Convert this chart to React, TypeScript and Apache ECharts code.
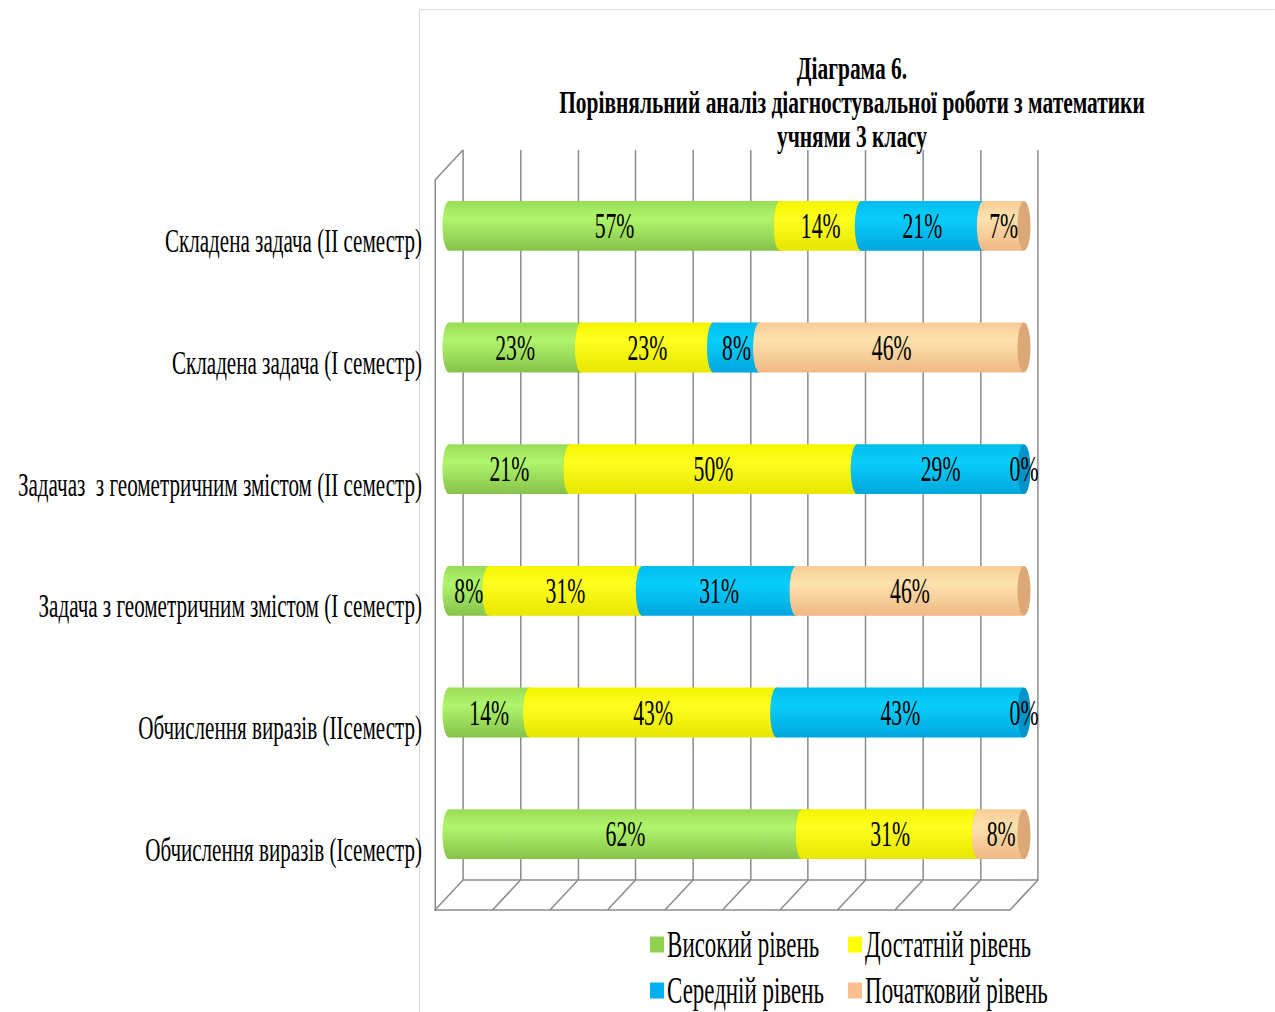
import React, { useEffect, useRef } from "react";
import * as echarts from "echarts";

// ---- data (top to bottom) ----
const categories = [
  "Складена задача (II семестр)",
  "Складена задача (I семестр)",
  "Задачаз  з геометричним змістом (II семестр)",
  "Задача з геометричним змістом (I семестр)",
  "Обчислення виразів (IIсеместр)",
  "Обчислення виразів (Iсеместр)",
];
const seriesNames = ["Високий рівень", "Достатній рівень", "Середній рівень", "Початковий рівень"];
const high: (number | null)[] = [57, 23, 21, 8, 14, 62];
const sufficient: (number | null)[] = [14, 23, 50, 31, 43, 31];
const medium: (number | null)[] = [21, 8, 29, 31, 43, null];
const initial: (number | null)[] = [7, 46, 0, 46, 0, 8];
const axisTicks = [0, 10, 20, 30, 40, 50, 60, 70, 80, 90, 100];

const titleText = "Діаграма 6.\nПорівняльний аналіз діагностувальної роботи з математики\nучнями 3 класу";

// ---- styles / layout ----
// The reference uses a horizontally condensed serif face; the whole chart is
// drawn wider and squeezed horizontally by S to reproduce that look.
const S = 0.62;
const sx = (v: number) => v / S;
const W = 1275;
const H = 1012;

const FONT = "'Liberation Serif', 'Times New Roman', serif";
const GRID_LINE = "#8c8c8c";
const LW_H = 1.5; // horizontal line width (screen px)
const LW_V = sx(1.5); // vertical line width in chart space
const baseColors = ["#92d050", "#ffff00", "#00b0f0", "#fac090"];
const gradStops = [
  ["#98dc56", "#b0f66c", "#86c24a"],
  ["#f4f400", "#ffff20", "#e6e600"],
  ["#00bcec", "#08cefc", "#00a6de"],
  ["#f8cc96", "#fde2ae", "#f0b884"],
];
const capColors = ["#7db044", "#d4d400", "#0094c8", "#dca877"];

const FRONT = { left: sx(435), top: 180, width: sx(575), height: 730 };
const DX = sx(28);
const DY = 30;

const rawSeries = [high, sufficient, medium, initial];

function buildSegments() {
  const segs: number[][][] = rawSeries.map(() => []);
  categories.forEach((_, i) => {
    const total = rawSeries.reduce((a, s) => a + (s[i] ?? 0), 0);
    let cum = 0;
    rawSeries.forEach((s, k) => {
      const v = s[i];
      const share = v == null ? 0 : (v / total) * 100;
      segs[k].push([i, cum, cum + share]);
      cum += share;
    });
  });
  return segs;
}

export default function App() {
  const ref = useRef<HTMLDivElement>(null);

  useEffect(() => {
    if (!ref.current) return;
    const chart = echarts.init(ref.current, null, { renderer: "svg" });
    const segs = buildSegments();

    const barSeries = seriesNames.map((name, k) => ({
      name,
      type: "custom",
      xAxisIndex: 2,
      yAxisIndex: 2,
      clip: false,
      itemStyle: { color: baseColors[k] },
      data: segs[k],
      renderItem: (params: any, api: any) => {
        const cat = api.value(0);
        const s = api.value(1);
        const e = api.value(2);
        const raw = rawSeries[k][cat];
        if (raw == null) return { type: "group", children: [] };
        const p0 = api.coord([s, cat]);
        const p1 = api.coord([e, cat]);
        const h = api.size([0, 1])[1] * 0.41;
        const cy = p0[1];
        const rx = sx(6.5);
        const fill = new echarts.graphic.LinearGradient(0, 0, 0, 1, [
          { offset: 0, color: gradStops[k][0] },
          { offset: 0.35, color: gradStops[k][1] },
          { offset: 1, color: gradStops[k][2] },
        ]);
        const children: any[] = [];
        if (p1[0] - p0[0] > 0.5) {
          children.push({
            type: "rect",
            shape: { x: p0[0], y: cy - h / 2, width: p1[0] - p0[0], height: h },
            style: { fill },
          });
          children.push({
            type: "ellipse",
            shape: { cx: p0[0], cy, rx, ry: h / 2 },
            style: { fill },
          });
          children.push({
            type: "ellipse",
            shape: { cx: p1[0], cy, rx, ry: h / 2 },
            style: { fill: capColors[k] },
          });
        }
        children.push({
          type: "text",
          z2: 20,
          x: (p0[0] + p1[0]) / 2,
          y: cy,
          style: {
            text: raw + "%",
            fontSize: 35,
            fontFamily: FONT,
            fill: "#000",
            align: "center",
            verticalAlign: "middle",
          },
        });
        return { type: "group", children };
      },
    }));

    const floorSeries = {
      type: "custom",
      xAxisIndex: 1,
      yAxisIndex: 1,
      clip: false,
      silent: true,
      z: 1,
      data: axisTicks.map((v) => [v, 0]),
      renderItem: (params: any, api: any) => {
        const v = api.value(0);
        const p = api.coord([v, 0]);
        const cs = params.coordSys;
        const yb = cs.y + cs.height;
        const style = { stroke: GRID_LINE, lineWidth: 2 };
        const children: any[] = [
          { type: "line", shape: { x1: p[0], y1: yb, x2: p[0] + DX, y2: yb - DY }, style },
        ];
        if (v === axisTicks[0]) {
          children.push({
            type: "line",
            shape: { x1: cs.x, y1: cs.y, x2: cs.x + DX, y2: cs.y - DY },
            style,
          });
        }
        return { type: "group", children };
      },
    };

    const hiddenAxis = { show: false };
    const legendCommon = {
      icon: "rect",
      itemWidth: sx(14),
      itemHeight: 16,
      padding: 0,
      selectedMode: false,
      textStyle: { fontSize: 37, fontFamily: FONT, color: "#000" },
    };

    chart.setOption({
      animation: false,
      backgroundColor: "#ffffff",
      textStyle: { fontFamily: FONT },
      grid: [
        { left: FRONT.left + DX, top: FRONT.top - DY, width: FRONT.width, height: FRONT.height, outerBoundsMode: "none" },
        { left: FRONT.left, top: FRONT.top, width: FRONT.width, height: FRONT.height, outerBoundsMode: "none" },
        { left: FRONT.left + DX / 2, top: FRONT.top - DY / 2, width: FRONT.width, height: FRONT.height, outerBoundsMode: "none" },
      ],
      xAxis: [
        {
          gridIndex: 0,
          type: "value",
          min: 0,
          max: 100,
          interval: 10,
          axisLine: { show: true, lineStyle: { color: GRID_LINE, width: LW_H } },
          axisTick: { show: false },
          axisLabel: { show: false },
          splitLine: { show: true, lineStyle: { color: GRID_LINE, width: LW_V } },
        },
        {
          gridIndex: 1,
          type: "value",
          min: 0,
          max: 100,
          interval: 10,
          axisLine: { show: true, lineStyle: { color: GRID_LINE, width: LW_H } },
          axisTick: { show: false },
          axisLabel: { show: false },
          splitLine: { show: false },
        },
        { gridIndex: 2, type: "value", min: 0, max: 100, interval: 10, ...hiddenAxis },
      ],
      yAxis: [
        { gridIndex: 0, type: "category", inverse: true, data: categories, ...hiddenAxis },
        {
          gridIndex: 1,
          type: "category",
          inverse: true,
          data: categories,
          axisLine: { show: true, lineStyle: { color: GRID_LINE, width: LW_V } },
          axisTick: { show: false },
          splitLine: { show: false },
          axisLabel: {
            fontSize: 34,
            fontFamily: FONT,
            color: "#000",
            margin: sx(13),
            padding: [6, 0, 0, 0],
          },
        },
        { gridIndex: 2, type: "category", inverse: true, data: categories, ...hiddenAxis },
      ],
      legend: [
        { ...legendCommon, data: [seriesNames[0]], left: sx(650), top: 926 },
        { ...legendCommon, data: [seriesNames[1]], left: sx(848), top: 926 },
        { ...legendCommon, data: [seriesNames[2]], left: sx(650), top: 972 },
        { ...legendCommon, data: [seriesNames[3]], left: sx(848), top: 972 },
      ],
      graphic: [
        {
          type: "line",
          z: -10,
          silent: true,
          shape: { x1: sx(419.5), y1: 9.5, x2: sx(W), y2: 9.5 },
          style: { stroke: "#d9d9d9", lineWidth: 1 },
        },
        {
          type: "line",
          z: -10,
          silent: true,
          shape: { x1: sx(419.5), y1: 9.5, x2: sx(419.5), y2: H },
          style: { stroke: "#d9d9d9", lineWidth: sx(1) },
        },
        {
          type: "text",
          x: sx(852),
          y: 51,
          scaleX: 1.08,
          style: {
            text: titleText,
            fontSize: 32,
            fontWeight: "bold",
            fontFamily: FONT,
            lineHeight: 34,
            fill: "#000",
            align: "center",
            verticalAlign: "top",
          },
        },
      ],
      series: [floorSeries, ...barSeries],
    });

    return () => chart.dispose();
  }, []);

  return (
    <div
      ref={ref}
      style={{
        position: "fixed",
        left: 0,
        top: 0,
        width: sx(W),
        height: H,
        background: "#fff",
        transform: `scaleX(${S})`,
        transformOrigin: "0 0",
      }}
    />
  );
}
